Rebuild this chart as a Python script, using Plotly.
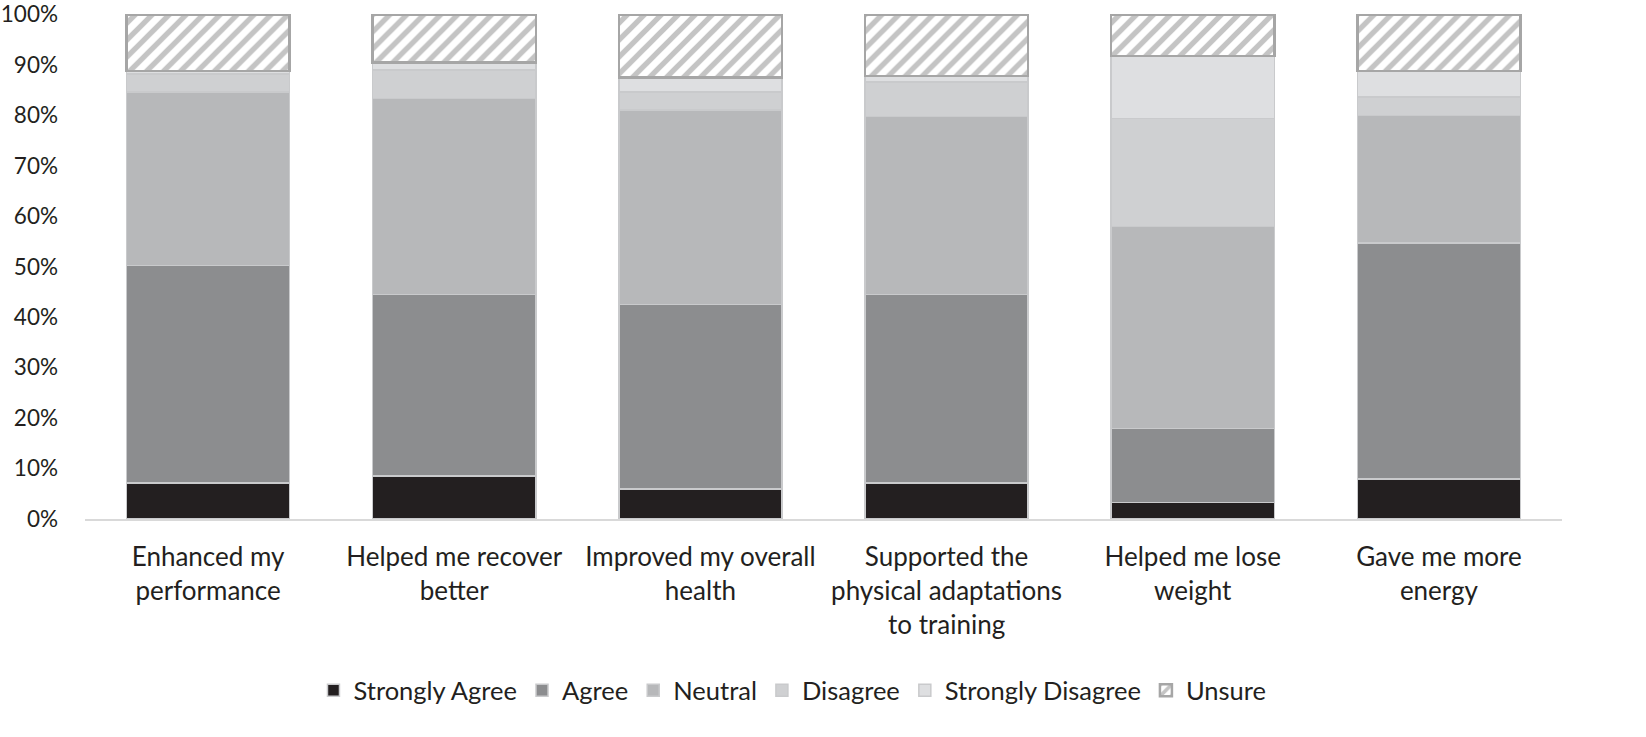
import plotly.graph_objects as go

categories = [
    "Enhanced my<br>performance",
    "Helped me recover<br>better",
    "Improved my overall<br>health",
    "Supported the<br>physical adaptations<br>to training",
    "Helped me lose<br>weight",
    "Gave me more<br>energy",
]

# shares in percent
strongly_agree = [7.1, 8.5, 5.9, 7.1, 3.3, 7.9]
agree = [43.1, 36.0, 36.6, 37.4, 14.6, 46.8]
neutral = [34.4, 38.8, 38.5, 35.2, 40.1, 25.2]
disagree = [3.6, 5.7, 3.6, 6.9, 21.3, 3.7]
strongly_disagree = [0.6, 1.4, 2.9, 1.2, 12.4, 5.2]
unsure = [11.2, 9.6, 12.5, 12.2, 8.3, 11.2]

y_ticks = [0, 10, 20, 30, 40, 50, 60, 70, 80, 90, 100]

series = [
    ("Strongly Agree", strongly_agree, "#231f20"),
    ("Agree", agree, "#8c8d8f"),
    ("Neutral", neutral, "#b7b8ba"),
    ("Disagree", disagree, "#cfd0d2"),
    ("Strongly Disagree", strongly_disagree, "#dedfe1"),
]

font = "Lato"

fig = go.Figure()
for name, values, color in series:
    fig.add_trace(go.Bar(
        x=categories, y=values, name=name,
        marker=dict(color=color, line=dict(color="#c9cacc", width=1.5)),
    ))

fig.add_trace(go.Bar(
    x=categories, y=unsure, name="Unsure",
    marker=dict(
        color="white",
        line=dict(color="#a6a6a6", width=2.5),
        pattern=dict(shape="/", fgcolor="#8a8a8a", bgcolor="white", size=12, solidity=0.45),
    ),
))

fig.update_layout(
    barmode="stack",
    bargap=0.337,
    width=1646, height=737,
    margin=dict(l=85, r=84, t=14, b=218),
    plot_bgcolor="white",
    paper_bgcolor="white",
    font=dict(family=font, size=22, color="#231f20"),
    legend=dict(
        orientation="h", x=0.479, xanchor="center", y=-0.34, yanchor="middle",
        font=dict(size=25.5), traceorder="normal",
    ),
    showlegend=True,
)

fig.update_xaxes(
    showline=True, linecolor="#d9d9d9", linewidth=2, automargin=False,
    ticks="", tickfont=dict(size=26), ticklabelstandoff=14,
)
fig.update_yaxes(
    range=[0, 100.05], tickvals=y_ticks, ticktext=[f"{v}%" for v in y_ticks],
    showgrid=False, zeroline=False, showline=False, automargin=False,
    tickfont=dict(size=22.5), ticklabelstandoff=26, ticklabeloverflow="allow",
)

# the default page margin would push the figure 8px down and right
fig.write_html(
    "out.html",
    config={"displayModeBar": False},
    post_script="document.body.style.margin='0';",
)
